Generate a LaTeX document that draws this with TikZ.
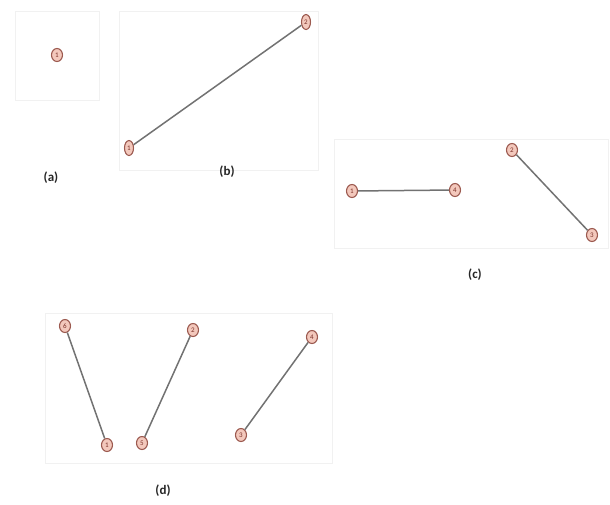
\documentclass[tikz,border=0pt]{standalone}
\usepackage{fontspec}
\setmainfont{Carlito}
\usetikzlibrary{shapes.geometric}
\begin{document}
\begin{tikzpicture}[x=1pt,y=-1pt,
  vert/.style={ellipse,draw=nodeedge,line width=1.1pt,fill=nodefill,minimum width=11pt,minimum height=13pt,inner sep=0pt,font=\fontsize{7}{7}\selectfont,text=nodetext},
  link/.style={draw=edgegray,line width=1.5pt},
  panelframe/.style={draw=framegray,line width=0.8pt},
  captext/.style={font=\fontsize{13}{13}\selectfont\bfseries,text=black!85}]
\definecolor{nodeedge}{HTML}{9C5A50}
\definecolor{nodefill}{HTML}{F3C8BC}
\definecolor{nodetext}{HTML}{7A3028}
\definecolor{edgegray}{HTML}{727272}
\definecolor{framegray}{HTML}{F1F1F1}
\useasboundingbox (0,0) rectangle (610,504);
% frames
\draw[panelframe] (15,11) rectangle (99,100);
\draw[panelframe] (119,11) rectangle (318,170);
\draw[panelframe] (334,139) rectangle (608,248);
\draw[panelframe] (45,313) rectangle (332,463);
% panel a
\node[vert] (a1) at (57,55) {1};
\node[captext] (la) at (51,178) {(a)};
% panel b
\node[vert,minimum width=9pt,minimum height=15pt] (b2) at (306,22) {2};
\node[vert,minimum width=9pt,minimum height=15pt] (b1) at (129,148) {1};
\draw[link] (b1) -- (b2);
\node[captext] (lb) at (227,172) {(b)};
% panel c
\node[vert] (c1) at (352,191) {1};
\node[vert] (c4) at (455,190) {4};
\node[vert] (c2) at (512,150) {2};
\node[vert] (c3) at (592,235) {3};
\draw[link] (c1) -- (c4);
\draw[link] (c2) -- (c3);
\node[captext] (lc) at (475,275) {(c)};
% panel d
\node[vert] (d6) at (65,326) {6};
\node[vert] (d1) at (107,445) {1};
\node[vert] (d5) at (142,443) {5};
\node[vert] (d2) at (193,330) {2};
\node[vert] (d4) at (312,337) {4};
\node[vert] (d3) at (241,435) {3};
\draw[link] (d6) -- (d1);
\draw[link] (d5) -- (d2);
\draw[link] (d3) -- (d4);
\node[captext] (ld) at (163,491) {(d)};
\end{tikzpicture}
\end{document}
